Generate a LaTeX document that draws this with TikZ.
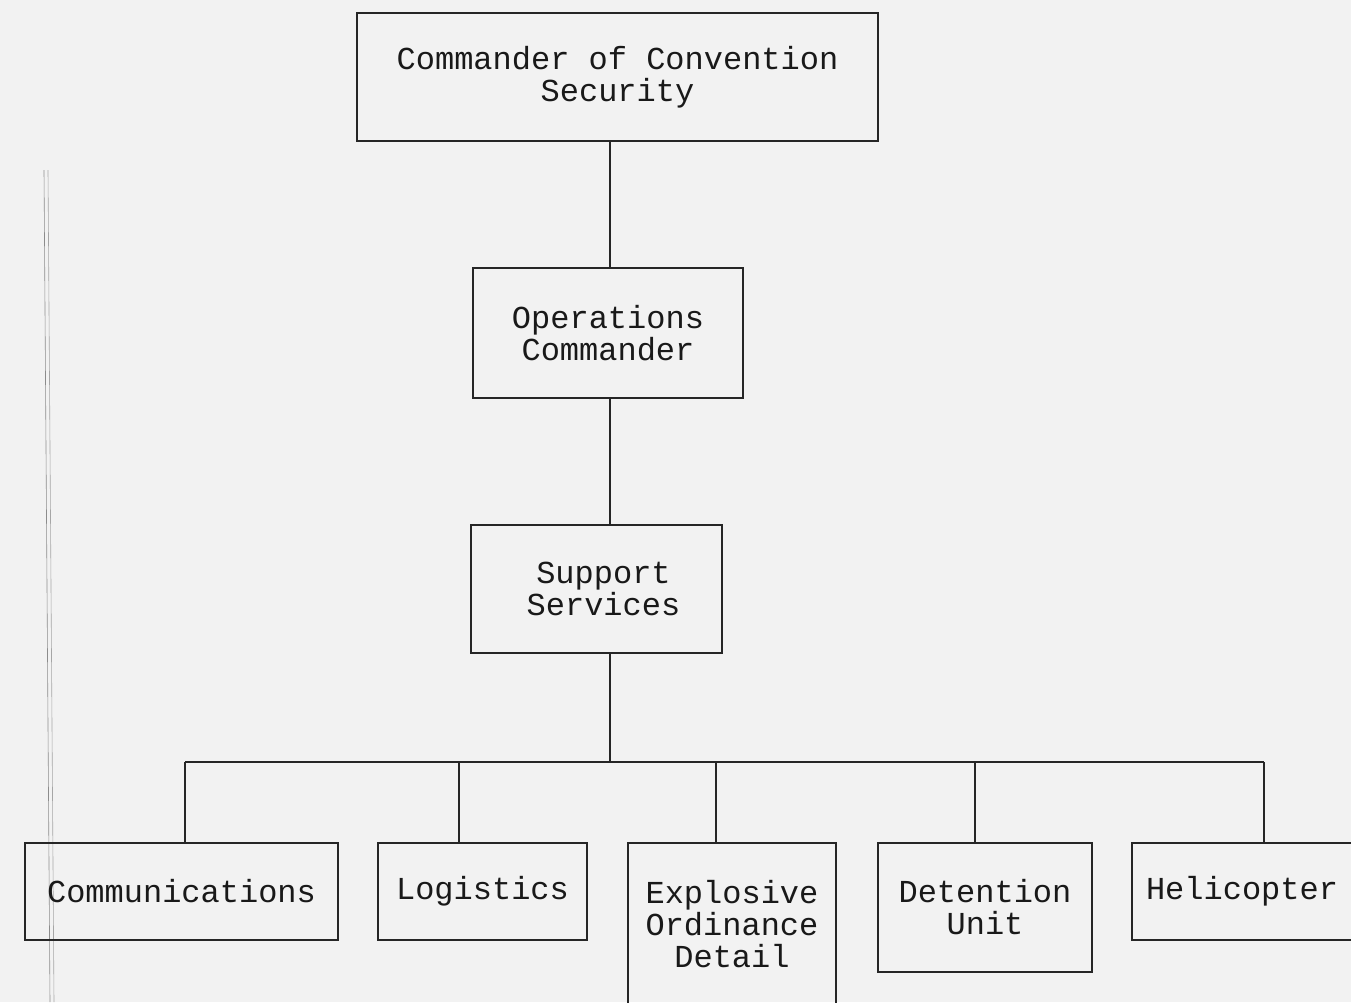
\documentclass[tikz,border=0pt]{standalone}
\usepackage{fontspec}
\setmonofont{Liberation Mono}
\begin{document}
\begin{tikzpicture}[x=1pt,y=-1pt,
  box/.style={draw=black!85,line width=1.7pt,align=center,inner sep=0pt,
    font=\ttfamily\fontsize{32}{32}\selectfont,text=black!90},
  conn/.style={draw=black!85,line width=1.7pt}]
\useasboundingbox[fill=black!5] (0,0) rectangle (1351,1002);
% scan edge artefact
\draw[black!45,line width=0.6pt] (44,170) -- (50,1002);
\draw[black!35,line width=0.6pt] (48,170) -- (54,1002);
\node[box,minimum width=521pt,minimum height=128pt] (top) at (617.5,77) {Commander of Convention\\Security};
\node[box,minimum width=270pt,minimum height=130pt] (ops) at (608,333) {Operations\\Commander};
\node[box,minimum width=251pt,minimum height=128pt] (sup) at (596.5,589) {\hspace*{14pt}Support\\\hspace*{14pt}Services};
\node[box,minimum width=313pt,minimum height=97pt] (comm) at (181.5,891.5) {Communications};
\node[box,minimum width=209pt,minimum height=97pt] (log) at (482.5,891.5) {Logistics};
\node[box,minimum width=208pt,minimum height=162pt] (eod) at (732,924) {Explosive\\Ordinance\\Detail};
\node[box,minimum width=214pt,minimum height=129pt] (det) at (985,907.5) {Detention\\Unit};
\node[box,minimum width=238pt,minimum height=97pt] (heli) at (1251,891.5) {\hspace*{-18pt}Helicopter};
\coordinate (spine) at (610,0);
\coordinate (bus) at (610,762);
\coordinate (b1) at (185,762);
\coordinate (b2) at (459,762);
\coordinate (b3) at (716,762);
\coordinate (b4) at (975,762);
\coordinate (b5) at (1264,762);
\draw[conn] (top.south -| spine) -- (ops.north -| spine);
\draw[conn] (ops.south -| spine) -- (sup.north -| spine);
\draw[conn] (sup.south -| spine) -- (bus);
\draw[conn] (b1) -- (b5);
\draw[conn] (b1) -- (b1 |- comm.north);
\draw[conn] (b2) -- (b2 |- log.north);
\draw[conn] (b3) -- (b3 |- eod.north);
\draw[conn] (b4) -- (b4 |- det.north);
\draw[conn] (b5) -- (b5 |- heli.north);
\end{tikzpicture}
\end{document}
